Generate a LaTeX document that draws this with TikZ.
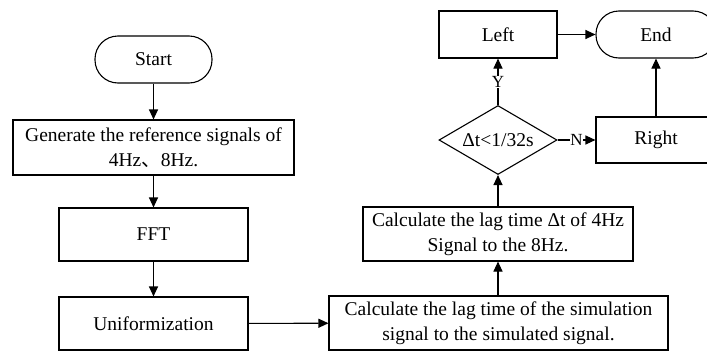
\documentclass[tikz,border=0pt]{standalone}
\usepackage{fontspec}
\setmainfont{Liberation Serif}
\newfontfamily\cjk{Noto Sans CJK SC}
\usetikzlibrary{arrows.meta,shapes.geometric}
\begin{document}
\begin{tikzpicture}[x=1pt,y=-1pt,
  every node/.style={font=\fontsize{19.5}{25}\selectfont},
  box/.style={draw,line width=1.1pt,inner sep=0pt,align=center},
  term/.style={box,rounded corners=23pt},
  arr/.style={line width=1.1pt,-{Triangle[length=10pt,width=9pt]}},
  lbl/.style={fill=white,inner sep=0.5pt,font=\fontsize{17}{20}\selectfont}]
\useasboundingbox (0,0) rectangle (707,351);
\node[term,minimum width=117pt,minimum height=47pt] (start) at (153.5,59.5) {Start};
\node[box,minimum width=281pt,minimum height=55pt] (gen) at (153.5,147.5) {Generate the reference signals of\\4Hz{\cjk 、}8Hz.};
\node[box,minimum width=189pt,minimum height=53pt] (fft) at (153.5,234.5) {FFT};
\node[box,minimum width=189pt,minimum height=53pt] (uni) at (153.5,323.5) {Uniformization};
\node[box,minimum width=339pt,minimum height=54pt] (calc1) at (498.5,323) {Calculate the lag time of the simulation\\signal to the simulated signal.};
\node[box,minimum width=270pt,minimum height=54pt] (calc2) at (498,234) {Calculate the lag time Δt of 4Hz\\Signal to the 8Hz.};
\node[draw,line width=1.1pt,diamond,inner sep=0pt,minimum width=118pt,minimum height=69pt] (dec) at (498,140) {};
\node[inner sep=0pt] (dect) at (dec.center) {Δt<1/32s};
\node[box,minimum width=118pt,minimum height=47pt] (left) at (498,34.5) {Left};
\node[term,minimum width=120pt,minimum height=47pt] (end) at (656,34.5) {End};
\node[box,minimum width=120pt,minimum height=46pt] (right) at (656,140) {Right};
\draw[arr] (start) -- (gen);
\draw[arr] (gen) -- (fft);
\draw[arr] (fft) -- (uni);
\draw[arr] (uni) -- (calc1);
\draw[arr] (calc1.north -| calc2) -- (calc2);
\draw[arr] (calc2) -- (dec.south);
\draw[arr] (dec.north) -- node[lbl] {Y} (left);
\draw[arr] (dec.east) -- node[lbl] {N} (right);
\draw[arr] (left) -- (end);
\draw[arr] (right) -- (end);
\end{tikzpicture}
\end{document}
